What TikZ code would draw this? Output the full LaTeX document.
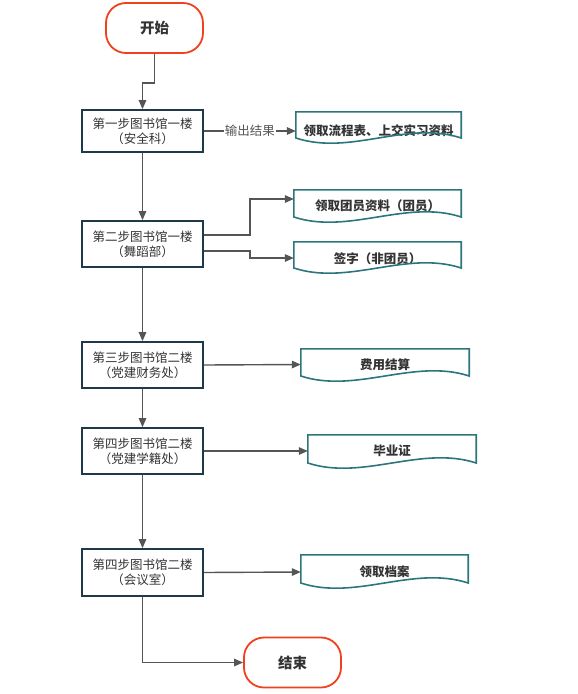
\documentclass[tikz,border=0pt]{standalone}
\usepackage{fontspec}
\setmainfont{Noto Sans CJK SC}
\usetikzlibrary{arrows.meta,calc}
\definecolor{termred}{HTML}{F0401E}
\definecolor{boxdark}{HTML}{1E3A4A}
\definecolor{docteal}{HTML}{2A767C}
\definecolor{linegray}{HTML}{555555}
\definecolor{txt}{HTML}{333333}
\newcommand\docshape[2]{\draw[docline] (#1.north west) -- (#1.north east) -- ([yshift=-#2pt]#1.east) .. controls +(-55pt,18pt) and +(55pt,-18pt) .. ([yshift=-#2pt]#1.west) -- cycle;}
\begin{document}
\begin{tikzpicture}[x=1pt,y=-1pt,
 term/.style={draw=termred,line width=1.8pt,fill=white,rounded corners=20pt,minimum width=97pt,minimum height=50pt,font=\fontsize{14.5}{16}\selectfont\bfseries,text=txt},
 stepbox/.style={draw=boxdark,line width=1.8pt,fill=white,minimum width=121pt,align=center,inner sep=0pt,font=\fontsize{12.5}{15}\selectfont,text=txt},
 docnode/.style={inner sep=0pt,font=\fontsize{12.5}{15}\selectfont\bfseries,text=txt},
 docline/.style={draw=docteal,line width=1.6pt},
 arr/.style={draw=linegray,line width=1.4pt,-{Triangle[length=9pt,width=7.5pt]}},
 lbl/.style={fill=white,inner sep=1pt,font=\fontsize{12.5}{15}\selectfont,text=linegray},
]
\useasboundingbox (0,0) rectangle (578,694);

% terminals
\node[term] (start) at (154.5,28) {开始};
\node[term] (end) at (292.5,662.5) {结束};

% step boxes
\node[stepbox,minimum height=42pt] (b1) at (142.5,131) {第一步图书馆一楼\\（安全科）};
\node[stepbox,minimum height=46pt] (b2) at (142.5,244) {第二步图书馆一楼\\（舞蹈部）};
\node[stepbox,minimum height=46pt] (b3) at (142.5,365) {第三步图书馆二楼\\（党建财务处）};
\node[stepbox,minimum height=46pt] (b4) at (142.5,451) {第四步图书馆二楼\\（党建学籍处）};
\node[stepbox,minimum height=47pt] (b5) at (142.5,572.5) {第四步图书馆二楼\\（会议室）};

% documents
\node[docnode,minimum width=165pt,minimum height=38pt] (d1) at (378.5,131) {领取流程表、上交实习资料};
\node[docnode,minimum width=167pt,minimum height=32pt] (d2) at (377.5,206) {领取团员资料（团员）};
\node[docnode,minimum width=167pt,minimum height=34pt] (d3) at (377.5,259) {签字（非团员）};
\node[docnode,minimum width=168pt,minimum height=31pt] (d4) at (385,364.5) {费用结算};
\node[docnode,minimum width=168pt,minimum height=32pt] (d5) at (392,451) {毕业证};
\node[docnode,minimum width=167pt,minimum height=34pt] (d6) at (384.5,572) {领取档案};
\docshape{d1}{7}
\docshape{d2}{11}
\docshape{d3}{9}
\docshape{d4}{11.5}
\docshape{d5}{12}
\docshape{d6}{11}

% connectors
\draw[arr] (start.south) -- ++(0,29) -| (b1.north);
\draw[arr] (b1.east) -- node[lbl] (l1) {输出结果} (d1.west);
\draw[arr] (b1.south) -- (b2.north);
\draw[arr] ([yshift=9pt]b2.east) -- ++(46,0) |- ([yshift=7pt]d2.west);
\draw[arr] ([yshift=-7pt]b2.east) -- ++(46,0) |- ([yshift=1pt]d3.west);
\draw[arr] (b2.south) -- (b3.north);
\draw[arr] (b3.east) -- (d4.west);
\draw[arr] (b3.south) -- (b4.north);
\draw[arr] (b4.east) -- (d5.west);
\draw[arr] (b4.south) -- (b5.north);
\draw[arr] (b5.east) -- (d6.west);
\draw[arr] (b5.south) |- (end.west);
\end{tikzpicture}
\end{document}
